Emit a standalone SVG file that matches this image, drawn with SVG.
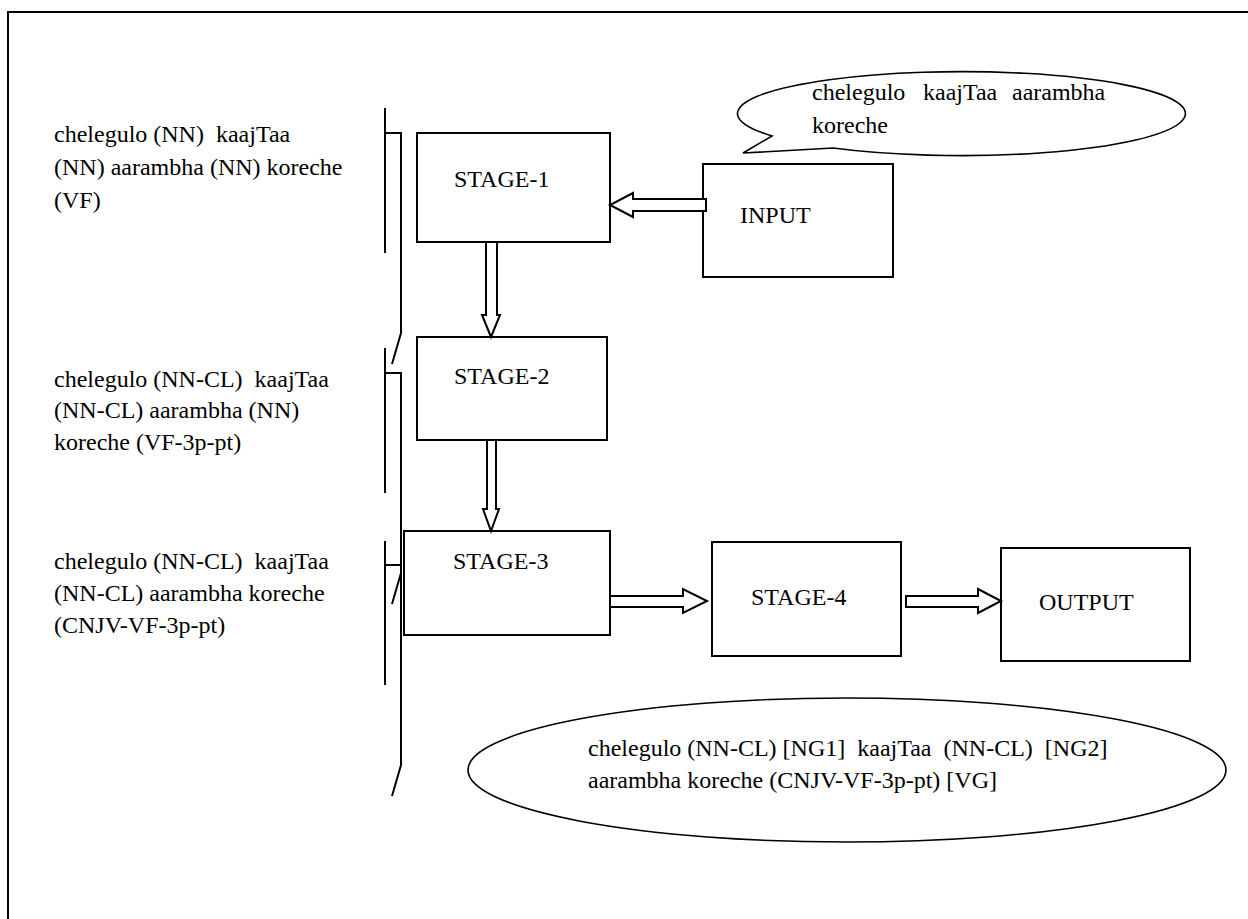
<svg xmlns="http://www.w3.org/2000/svg" width="1248" height="919" viewBox="0 0 1248 919">
<style>
text{font-family:"Liberation Serif","Times New Roman",serif;font-size:24px;fill:#000;white-space:pre}
.box{fill:#fff;stroke:#000;stroke-width:2}
.ln{fill:none;stroke:#000;stroke-width:2}
.arr{fill:#fff;stroke:#000;stroke-width:2;stroke-linejoin:miter}
.ell{fill:#fff;stroke:#000;stroke-width:1.6}
</style>
<rect x="0" y="0" width="1248" height="919" fill="#fff"/>
<rect id="frame" x="8" y="12" width="1300" height="1000" fill="none" stroke="#000" stroke-width="2"/>

<g id="labels">
<text x="54" y="142">chelegulo (NN)  kaajTaa</text>
<text x="54" y="175">(NN) aarambha (NN) koreche</text>
<text x="54" y="208">(VF)</text>
<text x="54" y="387">chelegulo (NN-CL)  kaajTaa</text>
<text x="54" y="418">(NN-CL) aarambha (NN)</text>
<text x="54" y="450">koreche (VF-3p-pt)</text>
<text x="54" y="569">chelegulo (NN-CL)  kaajTaa</text>
<text x="54" y="601">(NN-CL) aarambha koreche</text>
<text x="54" y="633">(CNJV-VF-3p-pt)</text>
</g>

<g id="brackets">
<path class="ln" d="M385,108 V253 M385,133 H401 V333 L392,364"/>
<path class="ln" d="M385,348 V493 M385,373 H401 V765 L392,796"/>
<path class="ln" d="M385,541 V685 M385,565 H401 M401,573 L392,604"/>
</g>

<g id="callout">
<path class="ell" d="M772,136 A224 42 0 1 1 833,148 L743,153 Z"/>
<text x="812" y="100">chelegulo</text>
<text x="923" y="100">kaajTaa</text>
<text x="1012" y="100">aarambha</text>
<text x="812" y="133">koreche</text>
</g>

<g id="stage1"><rect class="box" x="417" y="133" width="193" height="109"/><text x="454" y="187">STAGE-1</text></g>
<g id="input"><rect class="box" x="703" y="164" width="190" height="113"/><text x="740" y="223">INPUT</text></g>
<g id="stage2"><rect class="box" x="417" y="337" width="190" height="103"/><text x="454" y="384">STAGE-2</text></g>
<g id="stage3"><rect class="box" x="404" y="531" width="206" height="104"/><text x="453" y="569">STAGE-3</text></g>
<g id="stage4"><rect class="box" x="712" y="542" width="189" height="114"/><text x="751" y="605">STAGE-4</text></g>
<g id="output"><rect class="box" x="1001" y="548" width="189" height="113"/><text x="1039" y="610">OUTPUT</text></g>

<g id="connectors">
<polygon class="arr" points="706,199 633,199 633,193 610,205 633,217 633,211 706,211"/>
<polygon class="arr" points="486,242 497,242 497,315 500,315 491,337 482,315 486,315"/>
<polygon class="arr" points="487,440 496,440 496,509 499,509 491,531 483,509 487,509"/>
<polygon class="arr" points="610,596 683,596 683,589 707,601 683,613 683,607 610,607"/>
<polygon class="arr" points="906,596 978,596 978,589 1001,601 978,613 978,607 906,607"/>
</g>

<g id="result">
<ellipse class="ell" cx="847" cy="770" rx="379" ry="72"/>
<text x="588" y="756">chelegulo (NN-CL) [NG1]  kaajTaa  (NN-CL)  [NG2]</text>
<text x="588" y="788">aarambha koreche (CNJV-VF-3p-pt) [VG]</text>
</g>
</svg>
